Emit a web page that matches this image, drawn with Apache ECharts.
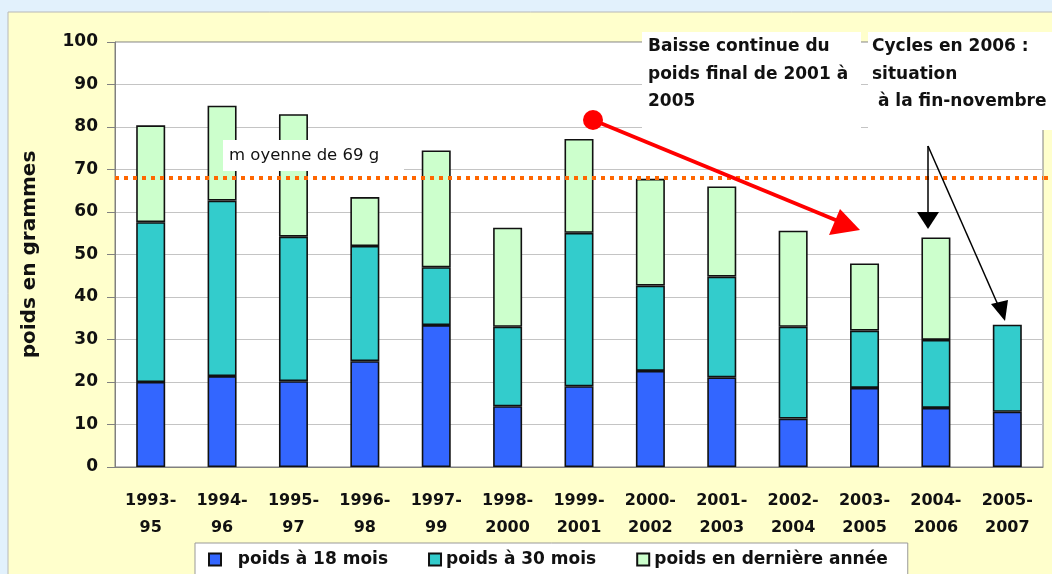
<!DOCTYPE html>
<html>
<head>
<meta charset="utf-8">
<script src="https://cdn.jsdelivr.net/npm/echarts@6/dist/echarts.min.js"></script>
<style>
  html, body { margin: 0; padding: 0; background: #e2f1fc; }
  #chart { width: 1052px; height: 574px; }
</style>
</head>
<body>
<div id="chart"></div>
<script>
const categories = ['1993-\n95', '1994-\n96', '1995-\n97', '1996-\n98', '1997-\n99', '1998-\n2000',
    '1999-\n2001', '2000-\n2002', '2001-\n2003', '2002-\n2004', '2003-\n2005', '2004-\n2006', '2005-\n2007'];
const poids18 = [20.0, 21.4, 20.2, 24.9, 33.4, 14.3, 19.0, 22.6, 21.1, 11.4, 18.6, 13.9, 13.0];
const poids30 = [37.6, 41.3, 34.0, 27.1, 13.6, 18.7, 36.1, 20.1, 23.7, 21.6, 13.5, 16.0, 20.5];
const poidsFin = [22.8, 22.3, 28.8, 11.5, 27.5, 23.3, 22.1, 25.1, 21.2, 22.6, 15.8, 24.1, null];
const moyenne = 68;
const yTicks = [0, 100, 10];

function initChart() {
    const chartDom = document.getElementById('chart');
    const myChart = echarts.init(chartDom);
    const font = "'DejaVu Sans', 'Liberation Sans', Arial, sans-serif";
    const barStyle = (color) => ({ color: color, borderColor: '#111', borderWidth: 1.6 });

    // annotations (flèches, encadrés)
    const graphics = [
        { type: 'rect', z: -10, shape: { x: 8, y: 12, width: 1100, height: 600 },
          style: { fill: '#ffffcc', stroke: '#b8b8b8', lineWidth: 1 } },
        // encadré "moyenne"
        { type: 'rect', z: 20, shape: { x: 223, y: 140, width: 181, height: 31 }, style: { fill: '#fff' } },
        { type: 'text', z: 21, x: 229, y: 156, style: { text: 'm oyenne de 69 g', font: '16.5px ' + font, fill: '#111', verticalAlign: 'middle' } },
        // encadrés texte haut
        { type: 'rect', z: 20, shape: { x: 642, y: 32, width: 219, height: 98 }, style: { fill: '#fff' } },
        { type: 'rect', z: 20, shape: { x: 868, y: 32, width: 190, height: 98 }, style: { fill: '#fff' } },
        { type: 'text', z: 21, x: 648, y: 33, style: { text: 'Baisse continue du\npoids final de 2001 à\n2005', font: 'bold 17px ' + font, lineHeight: 27.5, fill: '#111' } },
        { type: 'text', z: 21, x: 872, y: 33, style: { text: 'Cycles en 2006 :\nsituation\n à la fin-novembre', font: 'bold 17px ' + font, lineHeight: 27.5, fill: '#111' } },
        // flèche rouge
        { type: 'line', z: 22, shape: { x1: 593, y1: 120, x2: 838, y2: 221 }, style: { stroke: '#ff0000', lineWidth: 4 } },
        { type: 'polygon', z: 22, shape: { points: [[860, 230], [829, 235], [840, 209]] }, style: { fill: '#ff0000' } },
        { type: 'circle', z: 23, shape: { cx: 593, cy: 120, r: 10 }, style: { fill: '#ff0000' } },
        // flèches noires
        { type: 'line', z: 22, shape: { x1: 928, y1: 146, x2: 928, y2: 214 }, style: { stroke: '#000', lineWidth: 1.5 } },
        { type: 'polygon', z: 22, shape: { points: [[917, 212], [939, 212], [928, 229]] }, style: { fill: '#000' } },
        { type: 'line', z: 22, shape: { x1: 928, y1: 146, x2: 998, y2: 305 }, style: { stroke: '#000', lineWidth: 1.5 } },
        { type: 'polygon', z: 22, shape: { points: [[991, 304], [1008, 300], [1005, 321]] }, style: { fill: '#000' } },
        // prolongement de la ligne moyenne hors du cadre
        { type: 'line', z: 22, shape: { x1: 1044, y1: 178, x2: 1052, y2: 178 }, style: { stroke: '#ff6600', lineWidth: 4, lineDash: [4, 5] } }
    ];

    myChart.setOption({
        backgroundColor: '#e2f1fc',
        textStyle: { fontFamily: font },
        animation: false,
        grid: { left: 115, right: 9, top: 42, bottom: 107, show: true, backgroundColor: '#fff', borderColor: '#808080', borderWidth: 1 },
        legend: {
            left: 195, top: 543, padding: [8, 20, 12, 13], itemGap: 40,
            itemWidth: 12, itemHeight: 12, icon: 'rect',
            backgroundColor: '#fff', borderColor: '#999', borderWidth: 1, borderRadius: 0,
            textStyle: { fontSize: 17, fontWeight: 'bold', color: '#111' },
            formatter: (name) => name === 'poids à 18 mois' ? '  ' + name : name,
            data: ['poids à 18 mois', 'poids à 30 mois', 'poids en dernière année']
        },
        xAxis: {
            type: 'category', data: categories,
            axisLine: { lineStyle: { color: '#808080' } },
            axisTick: { length: 5, lineStyle: { color: '#808080' } },
            axisLabel: { fontSize: 16, fontWeight: 'bold', color: '#111', lineHeight: 27, margin: 20, interval: 0 }
        },
        yAxis: {
            type: 'value', min: yTicks[0], max: yTicks[1], interval: yTicks[2],
            name: 'poids en grammes', nameLocation: 'middle', nameGap: 75,
            nameTextStyle: { fontSize: 20, fontWeight: 'bold', color: '#111' },
            axisLine: { show: true, lineStyle: { color: '#808080' } },
            axisTick: { show: true, length: 8, lineStyle: { color: '#808080' } },
            axisLabel: { fontSize: 17, fontWeight: 'bold', color: '#111', margin: 17 },
            splitLine: { lineStyle: { color: '#c4c4c4' } }
        },
        series: [
            { name: 'poids à 18 mois', type: 'bar', stack: 'p', barWidth: 29, data: poids18, itemStyle: barStyle('#3366ff'),
              markLine: { silent: true, symbol: 'none', label: { show: false }, z: 10,
                  lineStyle: { color: '#ff6600', width: 4, type: [4, 5] }, data: [{ yAxis: moyenne }] } },
            { name: 'poids à 30 mois', type: 'bar', stack: 'p', barWidth: 29, data: poids30, itemStyle: barStyle('#33cccc') },
            { name: 'poids en dernière année', type: 'bar', stack: 'p', barWidth: 29, data: poidsFin, itemStyle: barStyle('#ccffcc') }
        ],
        graphic: graphics
    });
    window.addEventListener('resize', () => myChart.resize());
}

document.addEventListener('DOMContentLoaded', initChart);
</script>
</body>
</html>
